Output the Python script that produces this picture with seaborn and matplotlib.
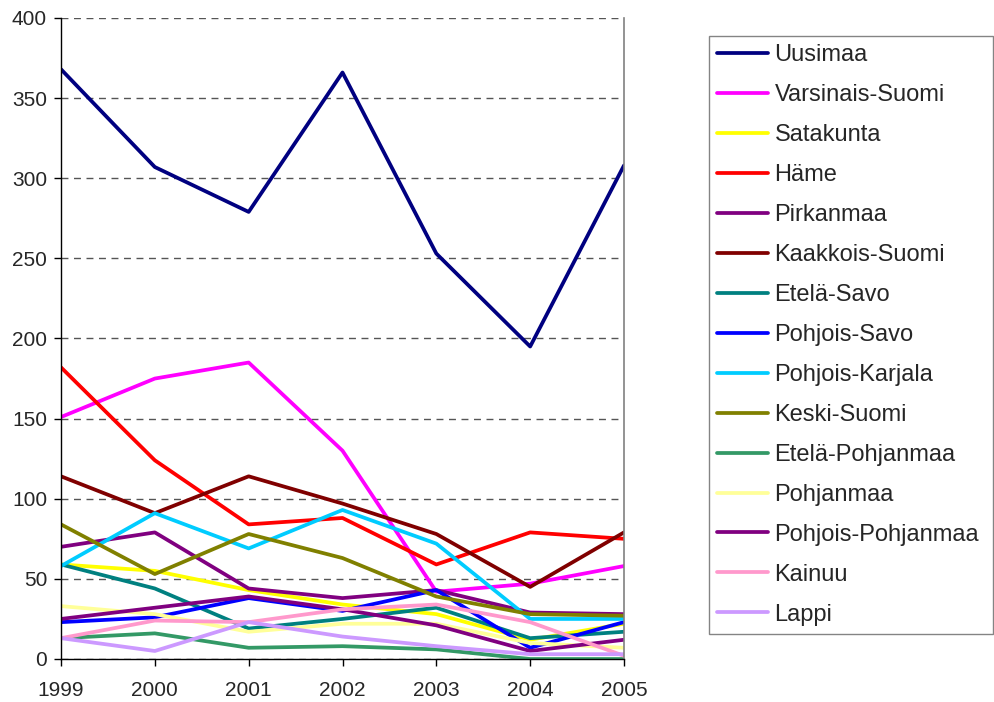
import matplotlib
matplotlib.use("Agg")
import matplotlib.pyplot as plt
import seaborn as sns
import pandas as pd

years = [1999, 2000, 2001, 2002, 2003, 2004, 2005]

regions = ["Uusimaa", "Varsinais-Suomi", "Satakunta", "Häme", "Pirkanmaa",
           "Kaakkois-Suomi", "Etelä-Savo", "Pohjois-Savo", "Pohjois-Karjala",
           "Keski-Suomi", "Etelä-Pohjanmaa", "Pohjanmaa", "Pohjois-Pohjanmaa",
           "Kainuu", "Lappi"]

uusimaa = [368, 307, 279, 366, 253, 195, 308]
varsinais_suomi = [151, 175, 185, 130, 42, 47, 58]
satakunta = [59, 55, 43, 34, 28, 12, 22]
hame = [182, 124, 84, 88, 59, 79, 75]
pirkanmaa = [70, 79, 44, 38, 43, 29, 28]
kaakkois_suomi = [114, 91, 114, 97, 78, 45, 79]
etela_savo = [59, 44, 19, 25, 32, 13, 17]
pohjois_savo = [23, 26, 38, 30, 43, 7, 23]
pohjois_karjala = [58, 91, 69, 93, 72, 25, 25]
keski_suomi = [84, 53, 78, 63, 39, 28, 27]
etela_pohjanmaa = [13, 16, 7, 8, 6, 0, 0]
pohjanmaa = [33, 28, 17, 22, 22, 10, 7]
pohjois_pohjanmaa = [25, 32, 39, 31, 21, 5, 12]
kainuu = [13, 24, 23, 31, 34, 23, 2]
lappi = [13, 5, 23, 14, 8, 3, 3]

series = [uusimaa, varsinais_suomi, satakunta, hame, pirkanmaa, kaakkois_suomi,
          etela_savo, pohjois_savo, pohjois_karjala, keski_suomi, etela_pohjanmaa,
          pohjanmaa, pohjois_pohjanmaa, kainuu, lappi]

colors = ["#000080", "#FF00FF", "#FFFF00", "#FF0000", "#800080", "#800000",
          "#008080", "#0000FF", "#00CCFF", "#808000", "#339966", "#FFFF99",
          "#800080", "#FF99CC", "#CC99FF"]

rows = []
for name, vals in zip(regions, series):
    for y, v in zip(years, vals):
        rows.append({"year": y, "value": v, "region": name})
df = pd.DataFrame(rows)

sns.set_style("white")
plt.rcParams["font.family"] = ["Liberation Sans", "DejaVu Sans"]

fig = plt.figure(figsize=(9.95, 7.02), dpi=100)
ax = fig.add_axes([61 / 995, 1 - 659 / 702, (624 - 61) / 995, (659 - 18) / 702])

sns.lineplot(data=df, x="year", y="value", hue="region", hue_order=regions,
             palette=dict(zip(regions, colors)), linewidth=2.7, ax=ax,
             legend=True)

ax.set_xlim(1999, 2005)
ax.set_ylim(0, 400)
ax.set_xticks(years)
ax.set_xticklabels([str(y) for y in years])
ax.set_yticks(range(0, 401, 50))
ax.set_xlabel("")
ax.set_ylabel("")
ax.yaxis.grid(True, linestyle=(0, (5, 4)), color="#555555", linewidth=1)
ax.xaxis.grid(False)
ax.set_axisbelow(True)
for s in ["left", "bottom"]:
    ax.spines[s].set_color("black")
    ax.spines[s].set_linewidth(1)
ax.spines["right"].set_color("#808080")
ax.spines["right"].set_linewidth(1.2)
ax.spines["top"].set_visible(False)
ax.tick_params(axis="both", which="both", direction="out", length=5, width=1,
               color="black", labelsize=15, bottom=True, left=True)
ax.tick_params(axis="x", pad=11)
ax.tick_params(axis="y", pad=5)

handles, labels = ax.get_legend_handles_labels()
ax.get_legend().remove()
leg = fig.legend(handles, labels, loc="upper left",
                 bbox_to_anchor=(709 / 995, 1 - 36 / 702, (993 - 709) / 995, 0.0001),
                 mode="expand", borderaxespad=0, frameon=True, fancybox=False,
                 fontsize=17, handlelength=2.16, handletextpad=0.25,
                 labelspacing=0.76, borderpad=0.36)
leg.get_frame().set_edgecolor("#666666")
leg.get_frame().set_linewidth(1)
for lh in leg.get_lines():
    lh.set_linewidth(2.7)

fig.savefig("out.png", dpi=100)
